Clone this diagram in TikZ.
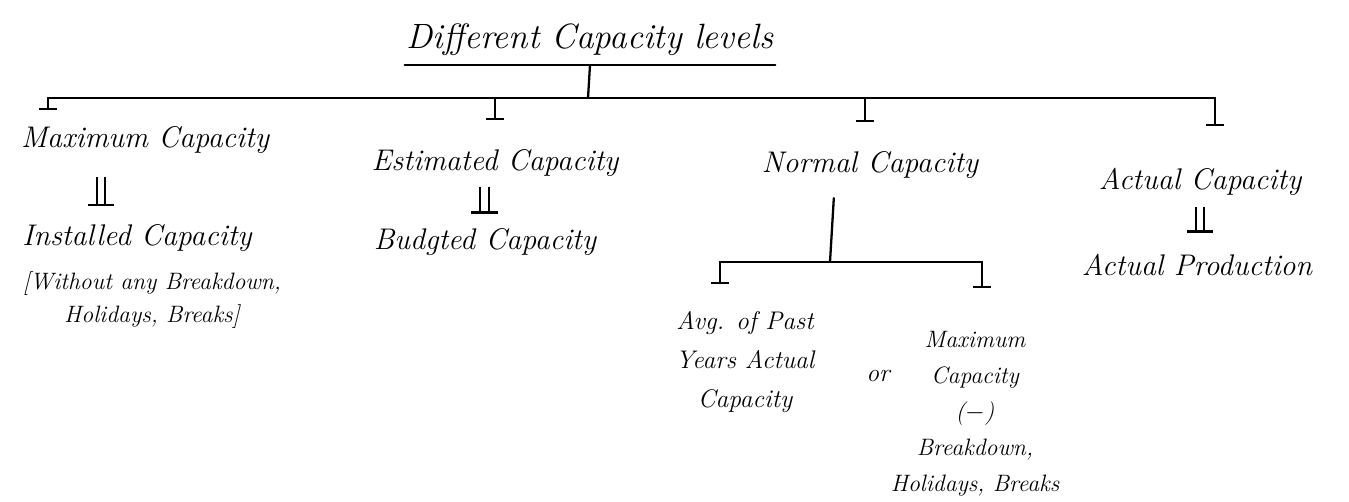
\documentclass[tikz,border=0pt]{standalone}
\usepackage{tikz}
\usetikzlibrary{positioning, arrows.meta}
\tikzset{
  hand/.style={font=\fontsize{17}{21}\selectfont\itshape, inner sep=1pt, align=center},
  small/.style={font=\fontsize{14.5}{22}\selectfont\itshape, inner sep=1pt, align=center},
  drop/.style={line width=1.3pt, -{Bar[width=10pt, line width=1.3pt]}},
  same/.style={line width=1.2pt, line cap=butt, double, double distance=3.5pt},
  foot/.style={fill, inner sep=0pt, minimum width=15pt, minimum height=1.3pt}
}

\begin{document}
\begin{tikzpicture}[x=0.02cm, y=-0.02cm, line cap=round]
     \useasboundingbox (0,0) rectangle (1349,502);
     % title
     \node[hand, font=\fontsize{20}{24}\selectfont\itshape] (title) at (590,40) {Different Capacity levels};
     \draw[line width=1.3pt] ([yshift=-4pt]title.south west) -- ([yshift=-4pt]title.south east);
     \coordinate (hub) at (588,98);
     \draw[line width=1.3pt] ([yshift=-4pt]title.south) -- (hub);
     % main bar
     \coordinate (b1) at (48,98);
     \coordinate (b2) at (495,98);
     \coordinate (b3) at (865,98);
     \coordinate (b4) at (1215,98);
     \draw[line width=1.3pt] (b1) -- (b4);
     % first level
     \node[hand] (maxc) at (145,140) {Maximum Capacity};
     \node[hand] (estc) at (495,163) {Estimated Capacity};
     \node[hand] (norc) at (870,165) {Normal Capacity};
     \node[hand] (actc) at (1200,182) {Actual Capacity};
     \draw[drop] (b1) -- ++(0,12);
     \draw[drop] (b2) -- ++(0,22);
     \draw[drop] (b3) -- ++(0,24);
     \draw[drop] (b4) -- ++(0,28);
     % second level
     \node[hand] (inst) at (137,238) {Installed Capacity};
     \node[small, font=\fontsize{13.5}{19}\selectfont\itshape] (note) at (152,300) {[Without any Breakdown,\\ Holidays, Breaks]};
     \node[hand] (budc) at (485,242) {Budgted Capacity};
     \node[hand] (actp) at (1197,265) {Actual Production};
     \draw[same] ([xshift=-25pt, yshift=-12pt]maxc.south) -- ++(0,28) node[foot, pos=1] {};
     \draw[same] ([xshift=-6pt, yshift=-5pt]estc.south) -- ++(0,25) node[foot, pos=1] {};
     \draw[same] ([yshift=-5pt]actc.south) -- ++(0,25) node[foot, pos=1] {};
     % normal capacity split
     \coordinate (hub2) at (830,262);
     \coordinate (c1) at (720,262);
     \coordinate (c2) at (982,262);
     \draw[line width=1.3pt, shorten <=10pt] ([xshift=-20pt]norc.south) -- (hub2);
     \draw[line width=1.3pt] (c1) -- (c2);
     \draw[drop] (c1) -- ++(0,22);
     \draw[drop] (c2) -- ++(0,26);
     \node[small] (avgc) at (745,362) {Avg. of Past\\Years Actual\\Capacity};
     \node[small] (ortx) at (878,376) {or};
     \node[small, font=\fontsize{13.5}{20.5}\selectfont\itshape] (maxb) at (975,414) {Maximum\\Capacity\\($-$)\\Breakdown,\\Holidays, Breaks};
\end{tikzpicture}
\end{document}
